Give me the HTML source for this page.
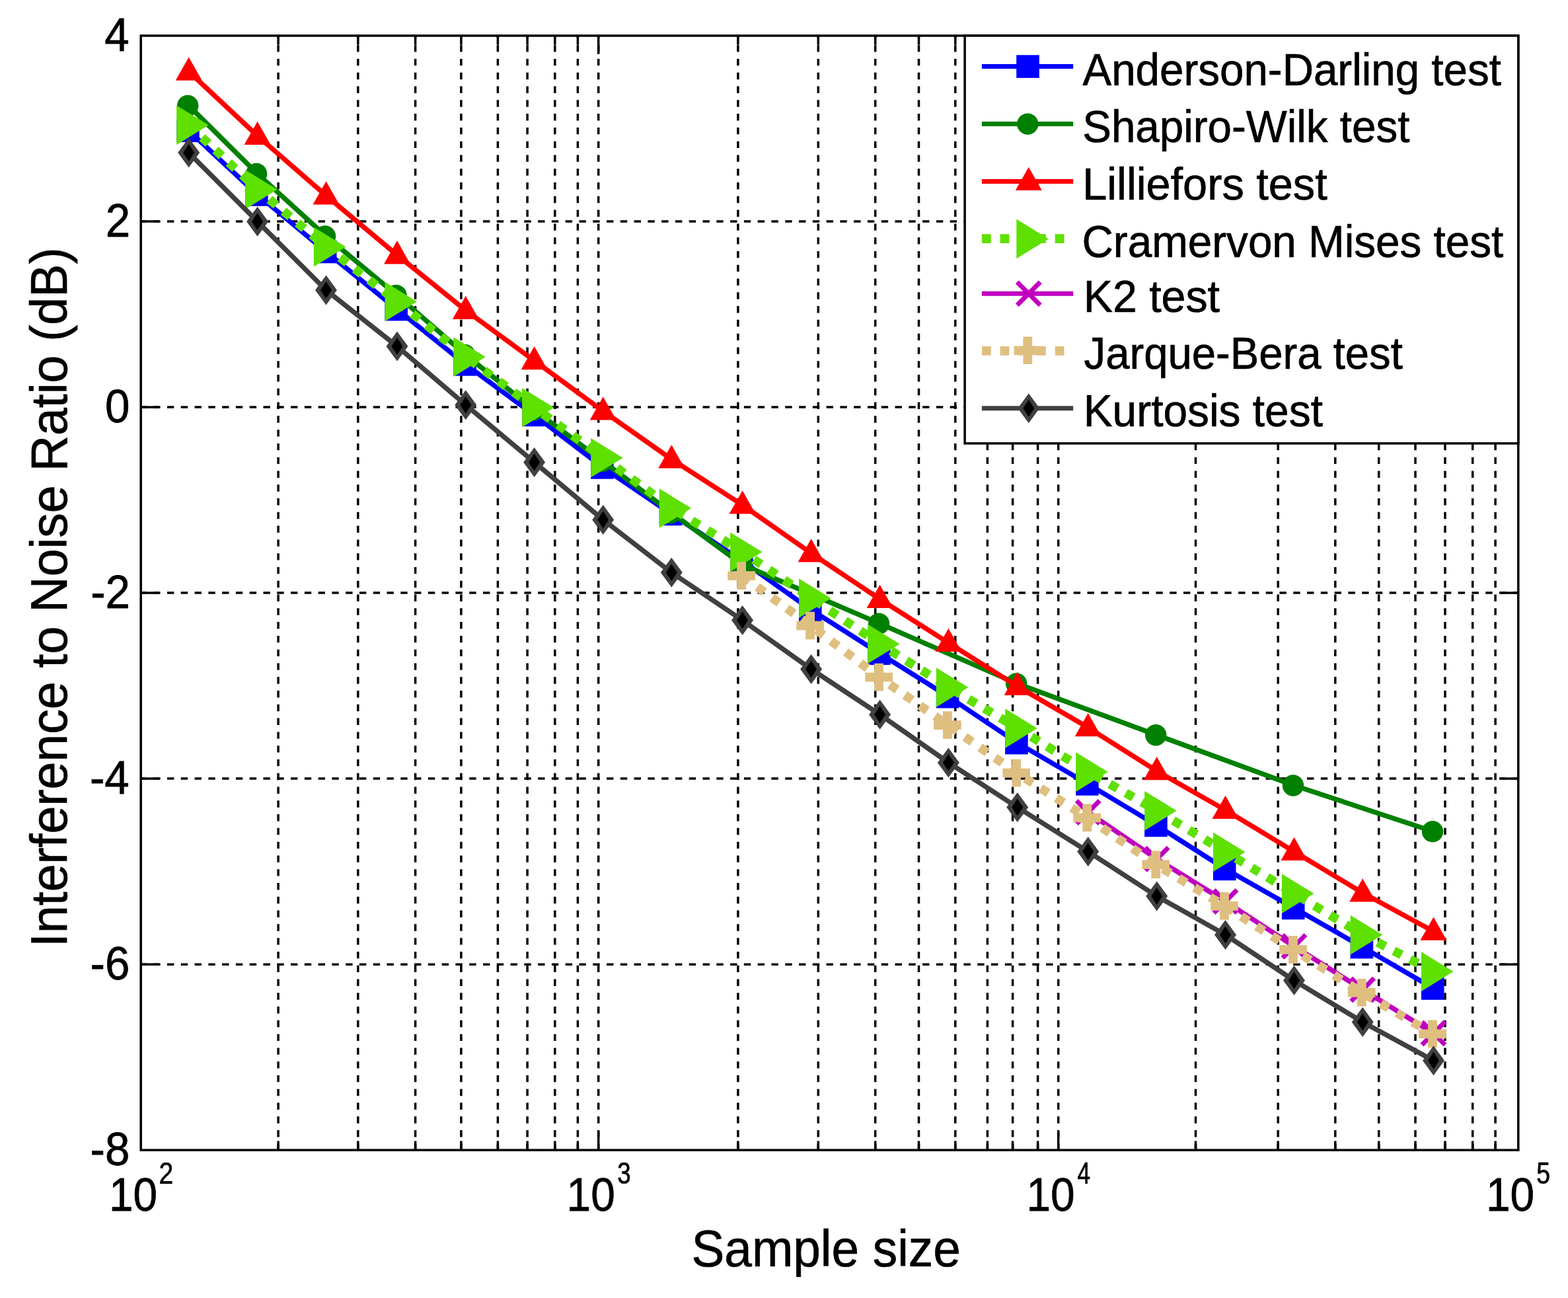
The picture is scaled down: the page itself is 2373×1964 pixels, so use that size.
<!DOCTYPE html>
<html lang="en"><head><meta charset="utf-8"><title>Interference to Noise Ratio vs Sample size</title>
<style>html,body{margin:0;padding:0;background:#fff}body{width:2373px;height:1964px;overflow:hidden}svg{display:block}text{font-family:"Liberation Sans",sans-serif;fill:#000;stroke:#000;stroke-width:0.7px}</style>
</head><body>
<svg width="2373" height="1964" viewBox="0 0 2373 1964">
<rect x="0" y="0" width="2373" height="1964" fill="#fff"/>
<g stroke="#000" stroke-width="3.5" fill="none">
<line x1="421.1" y1="54" x2="421.1" y2="1740.2" stroke-dasharray="10.39 10.394" stroke-dashoffset="6.6"/>
<line x1="421.1" y1="1740.2" x2="421.1" y2="1726.4"/>
<line x1="421.1" y1="54" x2="421.1" y2="67.8"/>
<line x1="541.8" y1="54" x2="541.8" y2="1740.2" stroke-dasharray="10.39 10.394" stroke-dashoffset="6.6"/>
<line x1="541.8" y1="1740.2" x2="541.8" y2="1726.4"/>
<line x1="541.8" y1="54" x2="541.8" y2="67.8"/>
<line x1="628.6" y1="54" x2="628.6" y2="1740.2" stroke-dasharray="10.39 10.394" stroke-dashoffset="6.6"/>
<line x1="628.6" y1="1740.2" x2="628.6" y2="1726.4"/>
<line x1="628.6" y1="54" x2="628.6" y2="67.8"/>
<line x1="697.9" y1="54" x2="697.9" y2="1740.2" stroke-dasharray="10.39 10.394" stroke-dashoffset="6.6"/>
<line x1="697.9" y1="1740.2" x2="697.9" y2="1726.4"/>
<line x1="697.9" y1="54" x2="697.9" y2="67.8"/>
<line x1="753.4" y1="54" x2="753.4" y2="1740.2" stroke-dasharray="10.39 10.394" stroke-dashoffset="6.6"/>
<line x1="753.4" y1="1740.2" x2="753.4" y2="1726.4"/>
<line x1="753.4" y1="54" x2="753.4" y2="67.8"/>
<line x1="798.1" y1="54" x2="798.1" y2="1740.2" stroke-dasharray="10.39 10.394" stroke-dashoffset="6.6"/>
<line x1="798.1" y1="1740.2" x2="798.1" y2="1726.4"/>
<line x1="798.1" y1="54" x2="798.1" y2="67.8"/>
<line x1="839.8" y1="54" x2="839.8" y2="1740.2" stroke-dasharray="10.39 10.394" stroke-dashoffset="6.6"/>
<line x1="839.8" y1="1740.2" x2="839.8" y2="1726.4"/>
<line x1="839.8" y1="54" x2="839.8" y2="67.8"/>
<line x1="874.4" y1="54" x2="874.4" y2="1740.2" stroke-dasharray="10.39 10.394" stroke-dashoffset="6.6"/>
<line x1="874.4" y1="1740.2" x2="874.4" y2="1726.4"/>
<line x1="874.4" y1="54" x2="874.4" y2="67.8"/>
<line x1="905.7" y1="54" x2="905.7" y2="1740.2" stroke-dasharray="10.39 10.394" stroke-dashoffset="6.6"/>
<line x1="905.7" y1="1740.2" x2="905.7" y2="1712.4"/>
<line x1="905.7" y1="54" x2="905.7" y2="81.8"/>
<line x1="1116.9" y1="54" x2="1116.9" y2="1740.2" stroke-dasharray="10.39 10.394" stroke-dashoffset="6.6"/>
<line x1="1116.9" y1="1740.2" x2="1116.9" y2="1726.4"/>
<line x1="1116.9" y1="54" x2="1116.9" y2="67.8"/>
<line x1="1238.3" y1="54" x2="1238.3" y2="1740.2" stroke-dasharray="10.39 10.394" stroke-dashoffset="6.6"/>
<line x1="1238.3" y1="1740.2" x2="1238.3" y2="1726.4"/>
<line x1="1238.3" y1="54" x2="1238.3" y2="67.8"/>
<line x1="1324.7" y1="54" x2="1324.7" y2="1740.2" stroke-dasharray="10.39 10.394" stroke-dashoffset="6.6"/>
<line x1="1324.7" y1="1740.2" x2="1324.7" y2="1726.4"/>
<line x1="1324.7" y1="54" x2="1324.7" y2="67.8"/>
<line x1="1390.5" y1="54" x2="1390.5" y2="1740.2" stroke-dasharray="10.39 10.394" stroke-dashoffset="6.6"/>
<line x1="1390.5" y1="1740.2" x2="1390.5" y2="1726.4"/>
<line x1="1390.5" y1="54" x2="1390.5" y2="67.8"/>
<line x1="1445.8" y1="54" x2="1445.8" y2="1740.2" stroke-dasharray="10.39 10.394" stroke-dashoffset="6.6"/>
<line x1="1445.8" y1="1740.2" x2="1445.8" y2="1726.4"/>
<line x1="1445.8" y1="54" x2="1445.8" y2="67.8"/>
<line x1="1494.4" y1="54" x2="1494.4" y2="1740.2" stroke-dasharray="10.39 10.394" stroke-dashoffset="6.6"/>
<line x1="1494.4" y1="1740.2" x2="1494.4" y2="1726.4"/>
<line x1="1494.4" y1="54" x2="1494.4" y2="67.8"/>
<line x1="1532.6" y1="54" x2="1532.6" y2="1740.2" stroke-dasharray="10.39 10.394" stroke-dashoffset="6.6"/>
<line x1="1532.6" y1="1740.2" x2="1532.6" y2="1726.4"/>
<line x1="1532.6" y1="54" x2="1532.6" y2="67.8"/>
<line x1="1570.6" y1="54" x2="1570.6" y2="1740.2" stroke-dasharray="10.39 10.394" stroke-dashoffset="6.6"/>
<line x1="1570.6" y1="1740.2" x2="1570.6" y2="1726.4"/>
<line x1="1570.6" y1="54" x2="1570.6" y2="67.8"/>
<line x1="1601.7" y1="54" x2="1601.7" y2="1740.2" stroke-dasharray="10.39 10.394" stroke-dashoffset="6.6"/>
<line x1="1601.7" y1="1740.2" x2="1601.7" y2="1712.4"/>
<line x1="1601.7" y1="54" x2="1601.7" y2="81.8"/>
<line x1="1809.5" y1="54" x2="1809.5" y2="1740.2" stroke-dasharray="10.39 10.394" stroke-dashoffset="6.6"/>
<line x1="1809.5" y1="1740.2" x2="1809.5" y2="1726.4"/>
<line x1="1809.5" y1="54" x2="1809.5" y2="67.8"/>
<line x1="1934.2" y1="54" x2="1934.2" y2="1740.2" stroke-dasharray="10.39 10.394" stroke-dashoffset="6.6"/>
<line x1="1934.2" y1="1740.2" x2="1934.2" y2="1726.4"/>
<line x1="1934.2" y1="54" x2="1934.2" y2="67.8"/>
<line x1="2020.8" y1="54" x2="2020.8" y2="1740.2" stroke-dasharray="10.39 10.394" stroke-dashoffset="6.6"/>
<line x1="2020.8" y1="1740.2" x2="2020.8" y2="1726.4"/>
<line x1="2020.8" y1="54" x2="2020.8" y2="67.8"/>
<line x1="2086.7" y1="54" x2="2086.7" y2="1740.2" stroke-dasharray="10.39 10.394" stroke-dashoffset="6.6"/>
<line x1="2086.7" y1="1740.2" x2="2086.7" y2="1726.4"/>
<line x1="2086.7" y1="54" x2="2086.7" y2="67.8"/>
<line x1="2142" y1="54" x2="2142" y2="1740.2" stroke-dasharray="10.39 10.394" stroke-dashoffset="6.6"/>
<line x1="2142" y1="1740.2" x2="2142" y2="1726.4"/>
<line x1="2142" y1="54" x2="2142" y2="67.8"/>
<line x1="2187" y1="54" x2="2187" y2="1740.2" stroke-dasharray="10.39 10.394" stroke-dashoffset="6.6"/>
<line x1="2187" y1="1740.2" x2="2187" y2="1726.4"/>
<line x1="2187" y1="54" x2="2187" y2="67.8"/>
<line x1="2228.7" y1="54" x2="2228.7" y2="1740.2" stroke-dasharray="10.39 10.394" stroke-dashoffset="6.6"/>
<line x1="2228.7" y1="1740.2" x2="2228.7" y2="1726.4"/>
<line x1="2228.7" y1="54" x2="2228.7" y2="67.8"/>
<line x1="2263.1" y1="54" x2="2263.1" y2="1740.2" stroke-dasharray="10.39 10.394" stroke-dashoffset="6.6"/>
<line x1="2263.1" y1="1740.2" x2="2263.1" y2="1726.4"/>
<line x1="2263.1" y1="54" x2="2263.1" y2="67.8"/>
<line x1="213.2" y1="335" x2="2297.8" y2="335" stroke-dasharray="10.39 10.394" stroke-dashoffset="1.8"/>
<line x1="213.2" y1="335" x2="241" y2="335"/>
<line x1="2297.8" y1="335" x2="2270" y2="335"/>
<line x1="213.2" y1="616.1" x2="2297.8" y2="616.1" stroke-dasharray="10.39 10.394" stroke-dashoffset="1.8"/>
<line x1="213.2" y1="616.1" x2="241" y2="616.1"/>
<line x1="2297.8" y1="616.1" x2="2270" y2="616.1"/>
<line x1="213.2" y1="897.1" x2="2297.8" y2="897.1" stroke-dasharray="10.39 10.394" stroke-dashoffset="1.8"/>
<line x1="213.2" y1="897.1" x2="241" y2="897.1"/>
<line x1="2297.8" y1="897.1" x2="2270" y2="897.1"/>
<line x1="213.2" y1="1178.1" x2="2297.8" y2="1178.1" stroke-dasharray="10.39 10.394" stroke-dashoffset="1.8"/>
<line x1="213.2" y1="1178.1" x2="241" y2="1178.1"/>
<line x1="2297.8" y1="1178.1" x2="2270" y2="1178.1"/>
<line x1="213.2" y1="1459.2" x2="2297.8" y2="1459.2" stroke-dasharray="10.39 10.394" stroke-dashoffset="1.8"/>
<line x1="213.2" y1="1459.2" x2="241" y2="1459.2"/>
<line x1="2297.8" y1="1459.2" x2="2270" y2="1459.2"/>
</g>
<g stroke-linejoin="round">
<polyline points="285.7,197.8 389.6,294.5 493.5,381 601,468.1 704.8,551.4 808.6,627.9 912.7,707.4 1016.3,777.9 1123.6,849 1227.6,922.8 1331.6,988.8 1435.4,1054.2 1539.7,1124.1 1646.7,1186.4 1750.7,1248.9 1854.5,1314.9 1958.5,1374 2062.2,1433.1 2169.5,1495.5" fill="none" stroke="#0000ff" stroke-width="7.4"/>
<rect x="267.1" y="180.5" width="34.6" height="34.6" fill="#0000ff"/>
<rect x="371" y="277.2" width="34.6" height="34.6" fill="#0000ff"/>
<rect x="474.9" y="363.7" width="34.6" height="34.6" fill="#0000ff"/>
<rect x="582.4" y="450.8" width="34.6" height="34.6" fill="#0000ff"/>
<rect x="686.2" y="534.1" width="34.6" height="34.6" fill="#0000ff"/>
<rect x="790" y="610.6" width="34.6" height="34.6" fill="#0000ff"/>
<rect x="894.1" y="690.1" width="34.6" height="34.6" fill="#0000ff"/>
<rect x="997.7" y="760.6" width="34.6" height="34.6" fill="#0000ff"/>
<rect x="1105" y="831.7" width="34.6" height="34.6" fill="#0000ff"/>
<rect x="1209" y="905.5" width="34.6" height="34.6" fill="#0000ff"/>
<rect x="1313" y="971.5" width="34.6" height="34.6" fill="#0000ff"/>
<rect x="1416.8" y="1036.9" width="34.6" height="34.6" fill="#0000ff"/>
<rect x="1521.1" y="1106.8" width="34.6" height="34.6" fill="#0000ff"/>
<rect x="1628.1" y="1169.1" width="34.6" height="34.6" fill="#0000ff"/>
<rect x="1732.1" y="1231.6" width="34.6" height="34.6" fill="#0000ff"/>
<rect x="1835.9" y="1297.6" width="34.6" height="34.6" fill="#0000ff"/>
<rect x="1939.9" y="1356.7" width="34.6" height="34.6" fill="#0000ff"/>
<rect x="2043.6" y="1415.8" width="34.6" height="34.6" fill="#0000ff"/>
<rect x="2150.9" y="1478.2" width="34.6" height="34.6" fill="#0000ff"/>
<polyline points="285.7,160 389.6,263 493.5,357.5 601,447 704.8,537 808.6,620.5 912.7,698 1016.3,776 1123.6,854.5 1331.6,943.7 1539.7,1034.5 1750.7,1112.3 1958.5,1188.5 2169.5,1258.2" fill="none" stroke="#008000" stroke-width="7.4"/>
<circle cx="284.2" cy="160" r="16.2" fill="#008000"/>
<circle cx="388.1" cy="263" r="16.2" fill="#008000"/>
<circle cx="492" cy="357.5" r="16.2" fill="#008000"/>
<circle cx="599.5" cy="447" r="16.2" fill="#008000"/>
<circle cx="703.3" cy="537" r="16.2" fill="#008000"/>
<circle cx="807.1" cy="620.5" r="16.2" fill="#008000"/>
<circle cx="911.2" cy="698" r="16.2" fill="#008000"/>
<circle cx="1014.8" cy="776" r="16.2" fill="#008000"/>
<circle cx="1122.1" cy="854.5" r="16.2" fill="#008000"/>
<circle cx="1330.1" cy="943.7" r="16.2" fill="#008000"/>
<circle cx="1538.2" cy="1034.5" r="16.2" fill="#008000"/>
<circle cx="1749.2" cy="1112.3" r="16.2" fill="#008000"/>
<circle cx="1957" cy="1188.5" r="16.2" fill="#008000"/>
<circle cx="2168" cy="1258.2" r="16.2" fill="#008000"/>
<polyline points="285.7,108.3 389.6,205.5 493.5,296 601,385.9 704.8,469.6 808.6,545.7 912.7,622 1016.3,694.9 1123.6,764.1 1227.6,837 1331.6,906.6 1435.4,972.6 1539.7,1038.5 1646.7,1100.8 1750.7,1166.7 1854.5,1225.6 1958.5,1288.5 2062.2,1351 2169.5,1409.3" fill="none" stroke="#ff0000" stroke-width="7.4"/>
<polygon points="285.7,86.5 305.7,121.8 265.7,121.8" fill="#ff0000"/>
<polygon points="389.6,183.7 409.6,219 369.6,219" fill="#ff0000"/>
<polygon points="493.5,274.2 513.5,309.5 473.5,309.5" fill="#ff0000"/>
<polygon points="601,364.1 621,399.4 581,399.4" fill="#ff0000"/>
<polygon points="704.8,447.8 724.8,483.1 684.8,483.1" fill="#ff0000"/>
<polygon points="808.6,523.9 828.6,559.2 788.6,559.2" fill="#ff0000"/>
<polygon points="912.7,600.2 932.7,635.5 892.7,635.5" fill="#ff0000"/>
<polygon points="1016.3,673.1 1036.3,708.4 996.3,708.4" fill="#ff0000"/>
<polygon points="1123.6,742.3 1143.6,777.6 1103.6,777.6" fill="#ff0000"/>
<polygon points="1227.6,815.2 1247.6,850.5 1207.6,850.5" fill="#ff0000"/>
<polygon points="1331.6,884.8 1351.6,920.1 1311.6,920.1" fill="#ff0000"/>
<polygon points="1435.4,950.8 1455.4,986.1 1415.4,986.1" fill="#ff0000"/>
<polygon points="1539.7,1016.7 1559.7,1052 1519.7,1052" fill="#ff0000"/>
<polygon points="1646.7,1079 1666.7,1114.3 1626.7,1114.3" fill="#ff0000"/>
<polygon points="1750.7,1144.9 1770.7,1180.2 1730.7,1180.2" fill="#ff0000"/>
<polygon points="1854.5,1203.8 1874.5,1239.1 1834.5,1239.1" fill="#ff0000"/>
<polygon points="1958.5,1266.7 1978.5,1302 1938.5,1302" fill="#ff0000"/>
<polygon points="2062.2,1329.2 2082.2,1364.5 2042.2,1364.5" fill="#ff0000"/>
<polygon points="2169.5,1387.5 2189.5,1422.8 2149.5,1422.8" fill="#ff0000"/>
<polyline points="285.7,189 389.6,286.5 493.5,373.3 601,456.1 704.8,539.7 808.6,616.4 912.7,692.4 1016.3,768.7 1123.6,834.9 1227.6,904.9 1331.6,974.1 1435.4,1039.8 1539.7,1101.7 1646.7,1167.7 1750.7,1226.5 1854.5,1288.9 1958.5,1351.8 2062.2,1414.3 2169.5,1469.7" fill="none" stroke="#5ee000" stroke-width="13.5" stroke-dasharray="13.3 14.4"/>
<polygon points="267.2,159.5 315.7,189.3 267.2,219.2" fill="#5ee000"/>
<polygon points="371.1,257 419.6,286.8 371.1,316.7" fill="#5ee000"/>
<polygon points="475,343.8 523.5,373.6 475,403.5" fill="#5ee000"/>
<polygon points="582.5,426.6 631,456.4 582.5,486.3" fill="#5ee000"/>
<polygon points="686.3,510.2 734.8,540 686.3,569.9" fill="#5ee000"/>
<polygon points="790.1,586.9 838.6,616.7 790.1,646.6" fill="#5ee000"/>
<polygon points="894.2,662.9 942.7,692.7 894.2,722.6" fill="#5ee000"/>
<polygon points="997.8,739.2 1046.3,769 997.8,798.9" fill="#5ee000"/>
<polygon points="1105.1,805.4 1153.6,835.2 1105.1,865.1" fill="#5ee000"/>
<polygon points="1209.1,875.4 1257.6,905.2 1209.1,935.1" fill="#5ee000"/>
<polygon points="1313.1,944.6 1361.6,974.4 1313.1,1004.3" fill="#5ee000"/>
<polygon points="1416.9,1010.3 1465.4,1040.1 1416.9,1070" fill="#5ee000"/>
<polygon points="1521.2,1072.2 1569.7,1102 1521.2,1131.9" fill="#5ee000"/>
<polygon points="1628.2,1138.2 1676.7,1168 1628.2,1197.9" fill="#5ee000"/>
<polygon points="1732.2,1197 1780.7,1226.8 1732.2,1256.7" fill="#5ee000"/>
<polygon points="1836,1259.4 1884.5,1289.2 1836,1319.1" fill="#5ee000"/>
<polygon points="1940,1322.3 1988.5,1352.1 1940,1382" fill="#5ee000"/>
<polygon points="2043.7,1384.8 2092.2,1414.6 2043.7,1444.5" fill="#5ee000"/>
<polygon points="2151,1440.2 2199.5,1470 2151,1499.9" fill="#5ee000"/>
<polyline points="1646.7,1229 1750.7,1299.8 1854.5,1364 1958.5,1431.9 2062.2,1497.5 2169.5,1563.5" fill="none" stroke="#c000c0" stroke-width="7.4"/>
<path d="M1629.2 1211.5L1664.2 1246.5M1629.2 1246.5L1664.2 1211.5" stroke="#c000c0" stroke-width="7" fill="none"/>
<path d="M1733.2 1282.3L1768.2 1317.3M1733.2 1317.3L1768.2 1282.3" stroke="#c000c0" stroke-width="7" fill="none"/>
<path d="M1837 1346.5L1872 1381.5M1837 1381.5L1872 1346.5" stroke="#c000c0" stroke-width="7" fill="none"/>
<path d="M1941 1414.4L1976 1449.4M1941 1449.4L1976 1414.4" stroke="#c000c0" stroke-width="7" fill="none"/>
<path d="M2044.7 1480L2079.7 1515M2044.7 1515L2079.7 1480" stroke="#c000c0" stroke-width="7" fill="none"/>
<path d="M2152 1546L2187 1581M2152 1581L2187 1546" stroke="#c000c0" stroke-width="7" fill="none"/>
<polyline points="1123.6,871.7 1227.6,947.2 1331.6,1025.2 1435.4,1097.7 1539.7,1170.2 1646.7,1238 1750.7,1308.8 1854.5,1371.5 1958.5,1437.5 2062.2,1502.5 2169.5,1565" fill="none" stroke="#dfbf80" stroke-width="13.5" stroke-dasharray="13.3 14.4"/>
<path d="M1115.2 850.3H1129V864.2H1142.9V878H1129V891.9H1115.2V878H1101.3V864.2H1115.2Z" fill="#dfbf80"/>
<path d="M1219.2 925.8H1233V939.7H1246.9V953.5H1233V967.4H1219.2V953.5H1205.3V939.7H1219.2Z" fill="#dfbf80"/>
<path d="M1323.2 1003.8H1337V1017.7H1350.9V1031.5H1337V1045.4H1323.2V1031.5H1309.3V1017.7H1323.2Z" fill="#dfbf80"/>
<path d="M1427 1076.3H1440.8V1090.2H1454.7V1104H1440.8V1117.9H1427V1104H1413.1V1090.2H1427Z" fill="#dfbf80"/>
<path d="M1531.3 1148.8H1545.1V1162.7H1559V1176.5H1545.1V1190.4H1531.3V1176.5H1517.4V1162.7H1531.3Z" fill="#dfbf80"/>
<path d="M1638.3 1216.6H1652.1V1230.5H1666V1244.3H1652.1V1258.2H1638.3V1244.3H1624.4V1230.5H1638.3Z" fill="#dfbf80"/>
<path d="M1742.3 1287.4H1756.1V1301.3H1770V1315.1H1756.1V1329H1742.3V1315.1H1728.4V1301.3H1742.3Z" fill="#dfbf80"/>
<path d="M1846.1 1350.1H1859.9V1364H1873.8V1377.8H1859.9V1391.7H1846.1V1377.8H1832.2V1364H1846.1Z" fill="#dfbf80"/>
<path d="M1950.1 1416.1H1963.9V1430H1977.8V1443.8H1963.9V1457.7H1950.1V1443.8H1936.2V1430H1950.1Z" fill="#dfbf80"/>
<path d="M2053.8 1481.1H2067.6V1495H2081.5V1508.8H2067.6V1522.7H2053.8V1508.8H2039.9V1495H2053.8Z" fill="#dfbf80"/>
<path d="M2161.1 1543.6H2174.9V1557.5H2188.8V1571.3H2174.9V1585.2H2161.1V1571.3H2147.2V1557.5H2161.1Z" fill="#dfbf80"/>
<polyline points="285.7,231.1 389.6,335.2 493.5,439 601,524 704.8,612.8 808.6,699.4 912.7,786.4 1016.3,866.3 1123.6,938.5 1227.6,1012.4 1331.6,1081.2 1435.4,1153.9 1539.7,1221.5 1646.7,1288.6 1750.7,1356 1854.5,1414.4 1958.5,1483.6 2062.2,1546.4 2169.5,1604.8" fill="none" stroke="#404040" stroke-width="7.4"/>
<polygon points="285.7,208.6 302.2,231.1 285.7,253.6 269.2,231.1" fill="#404040"/>
<polygon points="285.7,218.1 294.2,231.1 285.7,244.1 277.2,231.1" fill="#000"/>
<polygon points="389.6,312.7 406.1,335.2 389.6,357.7 373.1,335.2" fill="#404040"/>
<polygon points="389.6,322.2 398.1,335.2 389.6,348.2 381.1,335.2" fill="#000"/>
<polygon points="493.5,416.5 510,439 493.5,461.5 477,439" fill="#404040"/>
<polygon points="493.5,426 502,439 493.5,452 485,439" fill="#000"/>
<polygon points="601,501.5 617.5,524 601,546.5 584.5,524" fill="#404040"/>
<polygon points="601,511 609.5,524 601,537 592.5,524" fill="#000"/>
<polygon points="704.8,590.3 721.3,612.8 704.8,635.3 688.3,612.8" fill="#404040"/>
<polygon points="704.8,599.8 713.3,612.8 704.8,625.8 696.3,612.8" fill="#000"/>
<polygon points="808.6,676.9 825.1,699.4 808.6,721.9 792.1,699.4" fill="#404040"/>
<polygon points="808.6,686.4 817.1,699.4 808.6,712.4 800.1,699.4" fill="#000"/>
<polygon points="912.7,763.9 929.2,786.4 912.7,808.9 896.2,786.4" fill="#404040"/>
<polygon points="912.7,773.4 921.2,786.4 912.7,799.4 904.2,786.4" fill="#000"/>
<polygon points="1016.3,843.8 1032.8,866.3 1016.3,888.8 999.8,866.3" fill="#404040"/>
<polygon points="1016.3,853.3 1024.8,866.3 1016.3,879.3 1007.8,866.3" fill="#000"/>
<polygon points="1123.6,916 1140.1,938.5 1123.6,961 1107.1,938.5" fill="#404040"/>
<polygon points="1123.6,925.5 1132.1,938.5 1123.6,951.5 1115.1,938.5" fill="#000"/>
<polygon points="1227.6,989.9 1244.1,1012.4 1227.6,1034.9 1211.1,1012.4" fill="#404040"/>
<polygon points="1227.6,999.4 1236.1,1012.4 1227.6,1025.4 1219.1,1012.4" fill="#000"/>
<polygon points="1331.6,1058.7 1348.1,1081.2 1331.6,1103.7 1315.1,1081.2" fill="#404040"/>
<polygon points="1331.6,1068.2 1340.1,1081.2 1331.6,1094.2 1323.1,1081.2" fill="#000"/>
<polygon points="1435.4,1131.4 1451.9,1153.9 1435.4,1176.4 1418.9,1153.9" fill="#404040"/>
<polygon points="1435.4,1140.9 1443.9,1153.9 1435.4,1166.9 1426.9,1153.9" fill="#000"/>
<polygon points="1539.7,1199 1556.2,1221.5 1539.7,1244 1523.2,1221.5" fill="#404040"/>
<polygon points="1539.7,1208.5 1548.2,1221.5 1539.7,1234.5 1531.2,1221.5" fill="#000"/>
<polygon points="1646.7,1266.1 1663.2,1288.6 1646.7,1311.1 1630.2,1288.6" fill="#404040"/>
<polygon points="1646.7,1275.6 1655.2,1288.6 1646.7,1301.6 1638.2,1288.6" fill="#000"/>
<polygon points="1750.7,1333.5 1767.2,1356 1750.7,1378.5 1734.2,1356" fill="#404040"/>
<polygon points="1750.7,1343 1759.2,1356 1750.7,1369 1742.2,1356" fill="#000"/>
<polygon points="1854.5,1391.9 1871,1414.4 1854.5,1436.9 1838,1414.4" fill="#404040"/>
<polygon points="1854.5,1401.4 1863,1414.4 1854.5,1427.4 1846,1414.4" fill="#000"/>
<polygon points="1958.5,1461.1 1975,1483.6 1958.5,1506.1 1942,1483.6" fill="#404040"/>
<polygon points="1958.5,1470.6 1967,1483.6 1958.5,1496.6 1950,1483.6" fill="#000"/>
<polygon points="2062.2,1523.9 2078.7,1546.4 2062.2,1568.9 2045.7,1546.4" fill="#404040"/>
<polygon points="2062.2,1533.4 2070.7,1546.4 2062.2,1559.4 2053.7,1546.4" fill="#000"/>
<polygon points="2169.5,1582.3 2186,1604.8 2169.5,1627.3 2153,1604.8" fill="#404040"/>
<polygon points="2169.5,1591.8 2178,1604.8 2169.5,1617.8 2161,1604.8" fill="#000"/>
</g>
<rect x="213.2" y="54" width="2084.6" height="1686.2" fill="none" stroke="#000" stroke-width="3.5"/>
<rect x="1460.1" y="54" width="837.7" height="616.9" fill="#fff" stroke="#000" stroke-width="3.5"/>
<line x1="1485.9" y1="100.6" x2="1624.2" y2="100.6" stroke="#0000ff" stroke-width="7"/>
<rect x="1538.2" y="83.3" width="34.6" height="34.6" fill="#0000ff"/>
<line x1="1485.9" y1="187.6" x2="1624.2" y2="187.6" stroke="#008000" stroke-width="7"/>
<circle cx="1555.3" cy="187.6" r="16.2" fill="#008000"/>
<line x1="1485.9" y1="274.6" x2="1624.2" y2="274.6" stroke="#ff0000" stroke-width="7"/>
<polygon points="1556.8,252.8 1576.8,288.1 1536.8,288.1" fill="#ff0000"/>
<line x1="1485.9" y1="361.1" x2="1620.2" y2="361.1" stroke="#5ee000" stroke-width="13.8" stroke-dasharray="13.8 13.9"/>
<polygon points="1538.3,331.6 1586.8,361.4 1538.3,391.3" fill="#5ee000"/>
<line x1="1485.9" y1="444.3" x2="1624.2" y2="444.3" stroke="#c000c0" stroke-width="7"/>
<path d="M1539.3 426.8L1574.3 461.8M1539.3 461.8L1574.3 426.8" stroke="#c000c0" stroke-width="7" fill="none"/>
<line x1="1485.9" y1="530.9" x2="1620.2" y2="530.9" stroke="#dfbf80" stroke-width="13.8" stroke-dasharray="13.8 13.9"/>
<path d="M1548.4 509.5H1562.2V523.4H1576.1V537.2H1562.2V551.1H1548.4V537.2H1534.5V523.4H1548.4Z" fill="#dfbf80"/>
<line x1="1485.9" y1="617.8" x2="1624.2" y2="617.8" stroke="#404040" stroke-width="7"/>
<polygon points="1556.8,595.3 1573.3,617.8 1556.8,640.3 1540.3,617.8" fill="#404040"/>
<polygon points="1556.8,604.8 1565.3,617.8 1556.8,630.8 1548.3,617.8" fill="#000"/>
<text transform="translate(1638.5 128.6) scale(0.9924 1.0350)" font-size="66">Anderson-Darling test</text>
<text transform="translate(1638.2 215.2) scale(0.9929 1.0350)" font-size="66">Shapiro-Wilk test</text>
<text transform="translate(1638.2 301.8) scale(1.0103 1.0350)" font-size="66">Lilliefors test</text>
<text transform="translate(1637.5 389) scale(0.9938 1.0350)" font-size="66">Cramervon Mises test</text>
<text transform="translate(1639.7 471.9) scale(1.0045 1.0350)" font-size="66">K2 test</text>
<text transform="translate(1640.6 558.3) scale(0.9885 1.0350)" font-size="66">Jarque-Bera test</text>
<text transform="translate(1639.7 645.3) scale(0.9978 1.0350)" font-size="66">Kurtosis test</text>
<text transform="translate(158.3 76.5) scale(1.0200 1.0750)" font-size="66">4</text>
<text transform="translate(159.7 357.5) scale(1.0200 1.0750)" font-size="66">2</text>
<text transform="translate(159 638.6) scale(1.0200 1.0750)" font-size="66">0</text>
<text transform="translate(137.2 919.6) scale(1.0200 1.0750)" font-size="66">-2</text>
<text transform="translate(135.9 1200.6) scale(1.0200 1.0750)" font-size="66">-4</text>
<text transform="translate(136.6 1481.7) scale(1.0200 1.0750)" font-size="66">-6</text>
<text transform="translate(136.6 1762.7) scale(1.0200 1.0750)" font-size="66">-8</text>
<text transform="translate(164.9 1832.2) scale(0.9969 1.0750)" font-size="66">10</text>
<text transform="translate(240.6 1790.6) scale(0.8893 1.0300)" font-size="44" stroke-width="0">2</text>
<text transform="translate(857.6 1832.2) scale(0.9969 1.0750)" font-size="66">10</text>
<text transform="translate(934.2 1790.6) scale(0.8349 1.0300)" font-size="44" stroke-width="0">3</text>
<text transform="translate(1553.5 1832.2) scale(0.9969 1.0750)" font-size="66">10</text>
<text transform="translate(1630.5 1790.6) scale(0.8021 1.0300)" font-size="44" stroke-width="0">4</text>
<text transform="translate(2249 1832.2) scale(0.9969 1.0750)" font-size="66">10</text>
<text transform="translate(2325.2 1790.6) scale(0.8523 1.0300)" font-size="44" stroke-width="0">5</text>
<text transform="translate(1046.4 1915.7) scale(0.9975 1.0400)" font-size="75">Sample size</text>
<text transform="translate(100.7 1433) rotate(-90) scale(1.0038 1.0400)" font-size="75">Interference to Noise Ratio (dB)</text>
</svg>
</body></html>
